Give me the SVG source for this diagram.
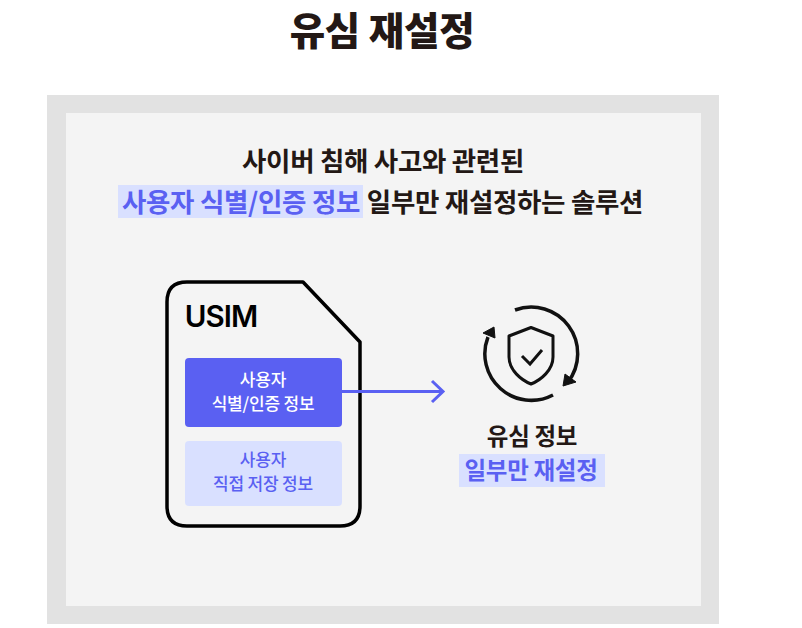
<svg xmlns="http://www.w3.org/2000/svg" width="802" height="628" viewBox="0 0 802 628">
<style>
text{font-family:"Noto Sans CJK KR","Noto Sans",sans-serif;text-anchor:middle}
.dark{fill:#231815}
.blue{fill:#5a60f2}
.hl{fill:#d9e0ff}
.h2{font-size:26.500px;font-weight:600;letter-spacing:-.3px}
.s{font-size:17px;font-weight:500;letter-spacing:-.2px}
.m{font-size:23.500px;font-weight:600;letter-spacing:-.3px}
.ico{fill:none;stroke:#111;stroke-width:3.500}
.tip{fill:#111;stroke:#111;stroke-width:1;stroke-linejoin:round}
</style>
<rect width="802" height="628" fill="#fff"/>
<text class="dark" x="382" y="45" font-size="38.500" font-weight="800" letter-spacing="-.2" id="title">유심 재설정</text>
<rect x="47" y="95" width="672" height="529" fill="#e2e2e2"/>
<rect x="66" y="113" width="635" height="493" fill="#f4f4f4"/>
<g id="heading">
<text class="dark h2" x="383" y="171">사이버 침해 사고와 관련된</text>
<rect class="hl" x="118" y="185" width="245" height="33"/>
<text class="blue h2" x="241" y="212">사용자 식별/인증 정보</text>
<text class="dark h2" x="505" y="212">일부만 재설정하는 솔루션</text>
</g>
<g id="usim">
<path d="M303 282H187Q167 282 167 302V506Q167 526 187 526H340Q360 526 360 506V342Z" fill="#f4f4f4" stroke="#000" stroke-width="3.500" stroke-linejoin="round"/>
<text x="221" y="327" font-size="29.500" font-weight="600" letter-spacing="-1" fill="#000" style="font-family:Inter,sans-serif">USIM</text>
</g>
<g id="auth-info">
<rect x="185" y="358" width="157" height="69" rx="4" fill="#5a60f2"/>
<text class="s" x="263" y="386" fill="#fff">사용자</text>
<text class="s" x="263" y="410" fill="#fff">식별/인증 정보</text>
</g>
<g id="stored-info">
<rect x="185" y="441" width="157" height="65" rx="4" class="hl"/>
<text class="s blue" x="263" y="466">사용자</text>
<text class="s blue" x="263" y="490">직접 저장 정보</text>
</g>
<g id="connectors">
<path d="M342 391.500H443M432 381L443 391.500L432 402" fill="none" stroke="#5a60f2" stroke-width="3"/>
</g>
<g id="shield">
<path class="ico" d="M515 310A46.500 46.500 0 0 1 568 382"/>
<path class="tip" d="M563 386L565 374L576 382Z"/>
<path class="ico" d="M553 395A46.500 46.500 0 0 1 488 337"/>
<path class="tip" d="M494 327L483 333L495 338Z"/>
<path d="M531 327.500L553 336V357C553 370 541 380 531 384C521 380 509 370 509 357V336Z" fill="none" stroke="#111" stroke-width="3" stroke-linejoin="round"/>
<path d="M522 356L530 364L542 350" fill="none" stroke="#111" stroke-width="3"/>
</g>
<g id="result">
<text class="dark m" x="532" y="445">유심 정보</text>
<rect class="hl" x="459" y="454" width="146" height="33"/>
<text class="blue m" x="531" y="479">일부만 재설정</text>
</g>
</svg>
